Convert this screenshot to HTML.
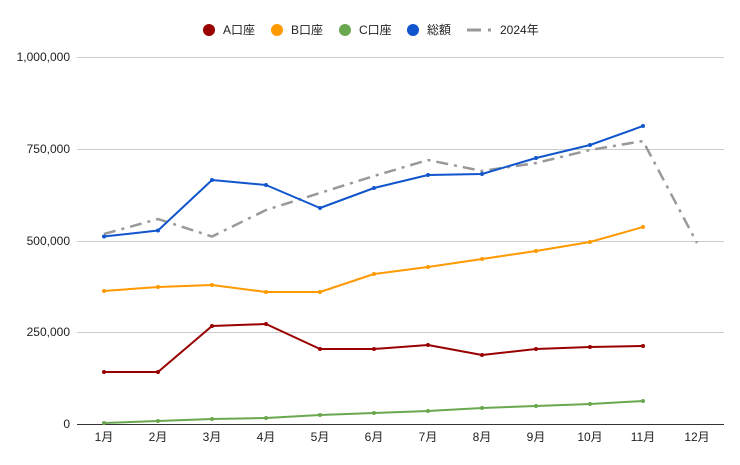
<!DOCTYPE html>
<html><head><meta charset="utf-8"><style>
body{margin:0;background:#fff;}
svg text{font-family:"Liberation Sans","Noto Sans CJK JP",sans-serif;font-size:12px;fill:#222;}
</style></head><body>
<svg width="740" height="460" xmlns="http://www.w3.org/2000/svg">
<rect width="740" height="460" fill="#fff"/>
<g stroke="#ccc" stroke-width="1">
<line x1="77" x2="724" y1="57.5" y2="57.5"/>
<line x1="77" x2="724" y1="149.5" y2="149.5"/>
<line x1="77" x2="724" y1="241.5" y2="241.5"/>
<line x1="77" x2="724" y1="332.5" y2="332.5"/>
</g>
<line x1="77" x2="724" y1="424.5" y2="424.5" stroke="#333" stroke-width="1"/>
<g text-anchor="end">
<text x="70" y="61">1,000,000</text>
<text x="70" y="153">750,000</text>
<text x="70" y="245">500,000</text>
<text x="70" y="336">250,000</text>
<text x="70" y="428">0</text>
</g>
<g text-anchor="middle">
<text x="104" y="441">1月</text><text x="158" y="441">2月</text><text x="212" y="441">3月</text><text x="266" y="441">4月</text><text x="320" y="441">5月</text><text x="374" y="441">6月</text><text x="428" y="441">7月</text><text x="482" y="441">8月</text><text x="536" y="441">9月</text><text x="590" y="441">10月</text><text x="643" y="441">11月</text><text x="697" y="441">12月</text>
</g>
<polyline fill="none" stroke="#999" stroke-width="2.5" stroke-dasharray="12,6,3,6" points="104,234 158,219 212,236.5 266,210 320,193 374,176 428,160 482,171 536,163 590,150 643,141 697,243"/>
<g fill="none" stroke-width="2" stroke-linejoin="round">
<polyline stroke="#990000" points="104,372 158,372 212,326 266,324 320,349 374,349 428,345 482,355 536,349 590,347 643,346"/>
<polyline stroke="#ff9900" points="104,291 158,287 212,285 266,292 320,292 374,274 428,267 482,259 536,251 590,242 643,227"/>
<polyline stroke="#6aa84f" points="104,423 158,421 212,419 266,418 320,415 374,413 428,411 482,408 536,406 590,404 643,401"/>
<polyline stroke="#1155cc" points="104,236.5 158,230.5 212,180 266,185 320,208 374,188 428,175 482,174 536,158 590,145 643,126"/>
</g>
<g fill="#990000"><circle cx="104" cy="372" r="2"/><circle cx="158" cy="372" r="2"/><circle cx="212" cy="326" r="2"/><circle cx="266" cy="324" r="2"/><circle cx="320" cy="349" r="2"/><circle cx="374" cy="349" r="2"/><circle cx="428" cy="345" r="2"/><circle cx="482" cy="355" r="2"/><circle cx="536" cy="349" r="2"/><circle cx="590" cy="347" r="2"/><circle cx="643" cy="346" r="2"/></g>
<g fill="#ff9900"><circle cx="104" cy="291" r="2"/><circle cx="158" cy="287" r="2"/><circle cx="212" cy="285" r="2"/><circle cx="266" cy="292" r="2"/><circle cx="320" cy="292" r="2"/><circle cx="374" cy="274" r="2"/><circle cx="428" cy="267" r="2"/><circle cx="482" cy="259" r="2"/><circle cx="536" cy="251" r="2"/><circle cx="590" cy="242" r="2"/><circle cx="643" cy="227" r="2"/></g>
<g fill="#6aa84f"><circle cx="104" cy="423" r="2"/><circle cx="158" cy="421" r="2"/><circle cx="212" cy="419" r="2"/><circle cx="266" cy="418" r="2"/><circle cx="320" cy="415" r="2"/><circle cx="374" cy="413" r="2"/><circle cx="428" cy="411" r="2"/><circle cx="482" cy="408" r="2"/><circle cx="536" cy="406" r="2"/><circle cx="590" cy="404" r="2"/><circle cx="643" cy="401" r="2"/></g>
<g fill="#1155cc"><circle cx="104" cy="236.5" r="2"/><circle cx="158" cy="230.5" r="2"/><circle cx="212" cy="180" r="2"/><circle cx="266" cy="185" r="2"/><circle cx="320" cy="208" r="2"/><circle cx="374" cy="188" r="2"/><circle cx="428" cy="175" r="2"/><circle cx="482" cy="174" r="2"/><circle cx="536" cy="158" r="2"/><circle cx="590" cy="145" r="2"/><circle cx="643" cy="126" r="2"/></g>
<circle cx="209" cy="30" r="6" fill="#990000"/><text x="223" y="34">A口座</text>
<circle cx="277" cy="30" r="6" fill="#ff9900"/><text x="291" y="34">B口座</text>
<circle cx="345" cy="30" r="6" fill="#6aa84f"/><text x="359" y="34">C口座</text>
<circle cx="413" cy="30" r="6" fill="#1155cc"/><text x="427" y="34">総額</text>
<line x1="467" x2="481" y1="30" y2="30" stroke="#999" stroke-width="3"/>
<rect x="488" y="28.5" width="3" height="3" fill="#999"/>
<text x="500" y="34">2024年</text>
</svg>
</body></html>
